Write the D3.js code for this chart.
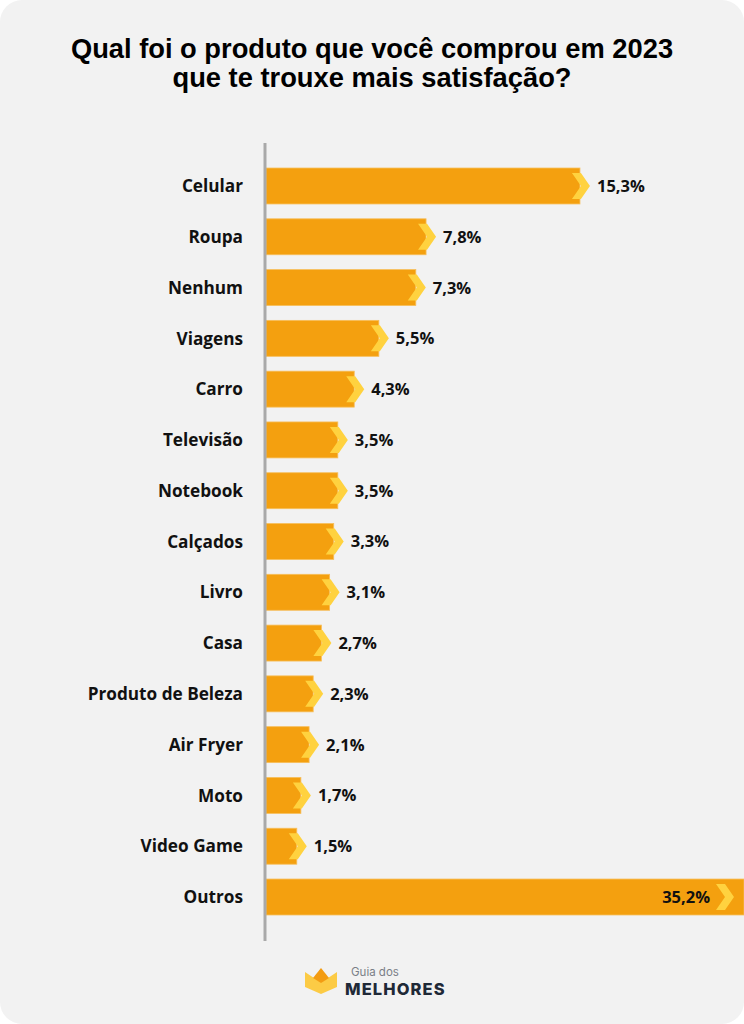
<!DOCTYPE html>
<html><head><meta charset="utf-8">
<script src="https://cdn.jsdelivr.net/npm/d3@7"></script>
<style>
html,body{margin:0;padding:0;background:#fff;}
svg{display:block;}
</style></head>
<body>
<svg id="c" width="744" height="1024"></svg>
<script>
const categories = ["Celular","Roupa","Nenhum","Viagens","Carro","Televisão","Notebook","Calçados","Livro","Casa","Produto de Beleza","Air Fryer","Moto","Video Game","Outros"];
const values = [15.3,7.8,7.3,5.5,4.3,3.5,3.5,3.3,3.1,2.7,2.3,2.1,1.7,1.5,35.2];
const valueLabels = ["15,3%","7,8%","7,3%","5,5%","4,3%","3,5%","3,5%","3,3%","3,1%","2,7%","2,3%","2,1%","1,7%","1,5%","35,2%"];
const titleLines = ["Qual foi o produto que você comprou em 2023","que te trouxe mais satisfação?"];

const W = 744, H = 1024;
const svg = d3.select("#c");

// panel
svg.append("rect").attr("x",0).attr("y",0).attr("width",W).attr("height",H)
  .attr("rx",22).attr("fill","#F2F2F2");

// title
const title = svg.append("text").attr("text-anchor","middle")
  .attr("font-family","'Liberation Sans',Arial,sans-serif")
  .attr("font-weight","bold").attr("font-size",27.3).attr("fill","#000");
titleLines.forEach((t,i)=>{
  title.append("tspan").attr("x",372).attr("y",58+i*29).text(t);
});

const x0 = 266;
const x = d3.scaleLinear().domain([0,35.2]).range([x0, x0 + 35.2*20.52]);
const y = d3.scaleBand().domain(categories).range([160.6,922.4]).paddingInner(0.292).paddingOuter(0.146);
const bh = y.bandwidth();

const data = categories.map((c,i)=>({c, v:values[i], l:valueLabels[i]}));

const g = svg.append("g");
const chevW = 18, chevNotch = 9;

data.forEach(d=>{
  const top = y(d.c), cy = top + bh/2;
  let xe = x(d.v);
  const clipped = xe > W;
  const barEnd = clipped ? W : xe;
  g.append("rect").attr("x",x0).attr("y",top).attr("width",barEnd-x0).attr("height",bh)
    .attr("fill","#F4A00F").attr("stroke","#F7BE5A").attr("stroke-width",0.8);
  // chevron
  const tip = clipped ? W - 10 : barEnd + 10;
  const left = tip - chevW;
  const ch = 13;
  g.append("path")
    .attr("d",`M${left},${cy-ch} L${tip-chevNotch},${cy-ch} L${tip},${cy} L${tip-chevNotch},${cy+ch} L${left},${cy+ch} L${left+chevNotch},${cy} Z`)
    .attr("fill","#FFD23F");
  // value label
  const t = g.append("text")
    .attr("font-family","'Open Sans',sans-serif").attr("font-weight","bold")
    .attr("font-size",16.5).attr("fill","#111")
    .attr("y",cy).attr("dy","0.36em").text(d.l);
  if (clipped) t.attr("x",left-6).attr("text-anchor","end");
  else t.attr("x",tip+7).attr("text-anchor","start");
  // category label
  g.append("text").attr("x",243).attr("y",cy).attr("dy","0.36em").attr("text-anchor","end")
    .attr("font-family","'Open Sans',sans-serif").attr("font-weight","bold")
    .attr("font-size",17.2).attr("fill","#111").text(d.c);
});

// axis line
svg.append("line").attr("x1",265).attr("x2",265).attr("y1",143).attr("y2",941)
  .attr("stroke","#A9A9A9").attr("stroke-width",3);

// logo
const logo = svg.append("g");
logo.append("path").attr("d","M305,972 L314,978 L321,969 L328,978 L337,972 L337,987 L321,994 L305,987 Z").attr("fill","#FCCB45");
logo.append("path").attr("d","M313,978 L321,968 L329,978 L321,983 Z").attr("fill","#F39C12");
logo.append("text").attr("x",351).attr("y",976).attr("font-family","Inter,'Noto Sans',sans-serif")
  .attr("font-size",11.5).attr("fill","#7A7F87").text("Guia dos");
logo.append("text").attr("x",345).attr("y",995).attr("font-family","Inter,'Noto Sans',sans-serif")
  .attr("font-weight","800").attr("font-size",16.5).attr("letter-spacing",1.1).attr("fill","#1F2937").text("MELHORES");
</script>
</body></html>
